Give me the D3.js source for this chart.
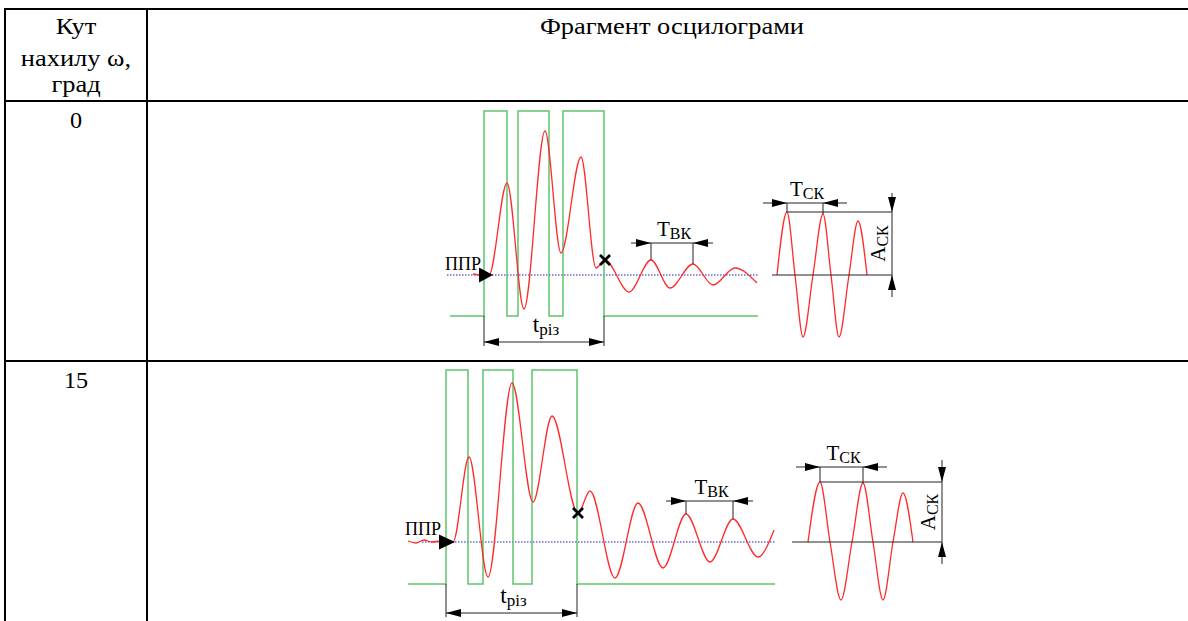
<!DOCTYPE html>
<html lang="uk">
<head>
<meta charset="utf-8">
<script src="https://cdn.jsdelivr.net/npm/d3@7"></script>
<style>
body { margin: 0; background: #fff; }
</style>
</head>
<body>
<script>
var width = 1188, height = 621;
var serif = "'Liberation Serif', 'Times New Roman', 'DejaVu Serif', serif";

// table texts
var headLeft = ["Кут", "нахилу ω,", "град"];
var headRight = "Фрагмент осцилограми";
var angles = ["0", "15"];

// ω = 0 : time / amplitude (1 unit = 1 px of the original trace)
var gate0 = [39, 62, 73, 104, 118, 159];
var gate0Level = [-41, 164];
var gate0Span = [5, 313];
var wave0T = [28, 36, 44, 62, 79, 100, 116, 136, 151, 160, 184, 206, 225, 248, 268, 290, 312];
var wave0A = [1, 0, 0, 92, -34, 144, 22, 118, 7, 15, -17, 15, -13, 11, -10, 7, -8];
var sin0T = [332, 342, 350, 358, 368, 378, 386, 394, 404, 413, 422];
var sin0A = [0, 63, 0, -62, 0, 61, 0, -62, 0, 54, 0];
var cut0 = 160;
var tbk0 = [206, 248];
var tsk0 = [342, 378];

// ω = 15
var gate15 = [38, 60, 75, 105, 124, 169];
var gate15Level = [-42, 172];
var gate15Span = [0, 367];
var wave15T = [0, 8, 16, 24, 32, 45, 61, 80, 104, 125, 144, 170, 182, 207, 230, 255, 278, 302, 325, 350, 366];
var wave15A = [1, -1, 2, 0, 1, 0, 85, -35, 159, 40, 126, 29, 51, -36, 39, -26, 28, -20, 23, -15, 12];
var sin15T = [400, 412, 422, 433, 444, 455, 465, 475, 485, 495, 505];
var sin15A = [0, 60, 0, -58, 0, 59, 0, -58, 0, 49, 0];
var cut15 = 170;
var tbk15 = [278, 325];
var tsk15 = [412, 455];

var svg = d3.select("body").append("svg")
    .attr("width", width)
    .attr("height", height);

// ---- table grid ----
var grid = svg.append("g").attr("stroke", "#000").attr("stroke-width", 2);
[9, 101, 361].forEach(function(y) {
  grid.append("line").attr("x1", 4).attr("x2", width).attr("y1", y).attr("y2", y);
});
[5, 147].forEach(function(x) {
  grid.append("line").attr("x1", x).attr("x2", x).attr("y1", 8).attr("y2", height);
});

// table text, slightly stretched like the scanned original
function cellText(x, y, s, size, sx) {
  return svg.append("text")
    .attr("transform", "translate(" + x + "," + y + ") scale(" + sx + ",1)")
    .attr("text-anchor", "middle")
    .attr("font-family", serif).attr("font-size", size).text(s);
}
headLeft.forEach(function(s, i) { cellText(76, [34, 66, 92][i], s, 23, 1.15); });
cellText(672, 34, headRight, 23, 1.15);
angles.forEach(function(s, i) { cellText(76, [128, 388][i], s, 23, 1.05); });

// filled arrow head, tip at (x,y)
function arrowHead(g, x, y, dir, L, W) {
  L = L || 15; W = W || 4;
  var pts;
  if (dir == "r") pts = [[x, y], [x - L, y - W], [x - L, y + W]];
  if (dir == "l") pts = [[x, y], [x + L, y - W], [x + L, y + W]];
  if (dir == "d") pts = [[x, y], [x - W, y - L], [x + W, y - L]];
  if (dir == "u") pts = [[x, y], [x - W, y + L], [x + W, y + L]];
  g.append("path").attr("d", "M" + pts.join("L") + "Z").attr("fill", "#000");
}

function subLabel(g, x, y, main, sub, size, subSize, rot) {
  var t = g.append("text").attr("text-anchor", "middle")
    .attr("transform", "translate(" + x + "," + y + ")" + (rot ? " rotate(-90)" : ""))
    .attr("font-family", serif).attr("font-size", size);
  t.append("tspan").text(main);
  t.append("tspan").attr("dy", 3).attr("font-size", subSize).text(sub);
}

function drawPanel(p) {
  var x = d3.scaleLinear().domain([0, 600]).range([p.x0, p.x0 + 600]);
  var y = d3.scaleLinear().domain([-100, 200]).range([p.y0 + 100, p.y0 - 200]);
  var g = svg.append("g");
  var lo = p.level[0], hi = p.level[1];

  // blue dotted zero line
  g.append("line").attr("x1", x(p.dotted[0])).attr("x2", x(p.dotted[1]))
    .attr("y1", y(0)).attr("y2", y(0))
    .attr("stroke", "#6b6bd0").attr("stroke-width", 1.3).attr("stroke-dasharray", "1.5,1.5");

  // green gate signal
  var gatePts = [[p.span[0], lo]];
  p.edges.forEach(function(e, i) {
    var a = i % 2 == 0 ? [lo, hi] : [hi, lo];
    gatePts.push([e, a[0]], [e, a[1]]);
  });
  gatePts.push([p.span[1], lo]);
  var straight = d3.line().x(function(d) { return x(d[0]); }).y(function(d) { return y(d[1]); });
  g.append("path").attr("d", straight(gatePts))
    .attr("fill", "none").attr("stroke", "#5ec46e").attr("stroke-width", 1.5);

  // red oscillation
  var smooth = d3.line().curve(d3.curveMonotoneX)
    .x(function(d) { return x(d[0]); }).y(function(d) { return y(d[1]); });
  g.append("path").attr("d", smooth(d3.zip(p.waveT, p.waveA)))
    .attr("fill", "none").attr("stroke", "#ff2b2b").attr("stroke-width", 1.3);
  g.append("path").attr("d", smooth(d3.zip(p.sinT, p.sinA)))
    .attr("fill", "none").attr("stroke", "#ff2b2b").attr("stroke-width", 1.3);

  // cut mark
  var ci = p.waveT.indexOf(p.cut);
  var cx = x(p.cut), cy = y(p.waveA[ci]);
  g.append("path").attr("d", "M" + (cx - 5) + "," + (cy - 5) + "L" + (cx + 5) + "," + (cy + 5) +
      "M" + (cx + 5) + "," + (cy - 5) + "L" + (cx - 5) + "," + (cy + 5))
    .attr("stroke", "#000").attr("stroke-width", 2.8);

  // ППР arrow
  arrowHead(g, x(p.ppr[1]), y(0), "r", p.ppr[1] - p.ppr[0], 7.5);
  g.append("text").attr("x", x(p.ppr[0]) + 2).attr("y", y(p.pprTextA))
    .attr("text-anchor", "end").attr("font-family", serif).attr("font-size", 18).text("ППР");

  var dim = g.append("g").attr("stroke", "#222").attr("stroke-width", 1);

  // t різ
  var e0 = p.edges[0], e1 = p.edges[p.edges.length - 1];
  [e0, e1].forEach(function(e) {
    dim.append("line").attr("x1", x(e)).attr("x2", x(e)).attr("y1", y(lo)).attr("y2", y(p.trizA) + 4);
  });
  dim.append("line").attr("x1", x(e0)).attr("x2", x(e1)).attr("y1", y(p.trizA)).attr("y2", y(p.trizA));
  arrowHead(g, x(e0), y(p.trizA), "l");
  arrowHead(g, x(e1), y(p.trizA), "r");
  subLabel(g, (x(e0) + x(e1)) / 2 + 2, y(p.trizA) - 10, "t", "різ", 23, 17);

  // T ВК / T СК
  [[p.tbk, p.waveT, p.waveA, p.tbkA, "ВК", 20], [p.tsk, p.sinT, p.sinA, p.tskA, "СК", 24]].forEach(function(d) {
    var pk = d[0], ts = d[1], as = d[2], a = d[3];
    pk.forEach(function(t) {
      dim.append("line").attr("x1", x(t)).attr("x2", x(t))
        .attr("y1", y(a)).attr("y2", y(as[ts.indexOf(t)]));
    });
    dim.append("line").attr("x1", x(pk[0] - d[5])).attr("x2", x(pk[1] + d[5]))
      .attr("y1", y(a)).attr("y2", y(a));
    arrowHead(g, x(pk[0]), y(a), "r");
    arrowHead(g, x(pk[1]), y(a), "l");
    subLabel(g, (x(pk[0]) + x(pk[1])) / 2 + 2, y(a) - 7, "Т", d[4], 21, 16);
  });

  // A СК
  var topA = p.sinA[p.sinT.indexOf(p.tsk[0])];
  dim.append("line").attr("x1", x(p.sinBase)).attr("x2", x(p.ackT)).attr("y1", y(0)).attr("y2", y(0));
  dim.append("line").attr("x1", x(p.tsk[0])).attr("x2", x(p.ackT)).attr("y1", y(topA)).attr("y2", y(topA));
  dim.append("line").attr("x1", x(p.ackT)).attr("x2", x(p.ackT)).attr("y1", y(82)).attr("y2", y(-22));
  arrowHead(g, x(p.ackT), y(topA), "d");
  arrowHead(g, x(p.ackT), y(0), "u");
  subLabel(g, x(p.ackT) - 7, y(topA / 2), "А", "СК", 21, 16, true);
}

drawPanel({
  x0: 445, y0: 275,
  edges: gate0, level: gate0Level, span: gate0Span, dotted: [2, 313],
  waveT: wave0T, waveA: wave0A, sinT: sin0T, sinA: sin0A,
  cut: cut0, tbk: tbk0, tsk: tsk0,
  ppr: [34, 48], pprTextA: 5,
  trizA: -67, tbkA: 32, tskA: 72, sinBase: 327, ackT: 447
});

drawPanel({
  x0: 408, y0: 542,
  edges: gate15, level: gate15Level, span: gate15Span, dotted: [14, 367],
  waveT: wave15T, waveA: wave15A, sinT: sin15T, sinA: sin15A,
  cut: cut15, tbk: tbk15, tsk: tsk15,
  ppr: [31, 47], pprTextA: 7,
  trizA: -71, tbkA: 41, tskA: 75, sinBase: 384, ackT: 534
});
</script>
</body>
</html>
